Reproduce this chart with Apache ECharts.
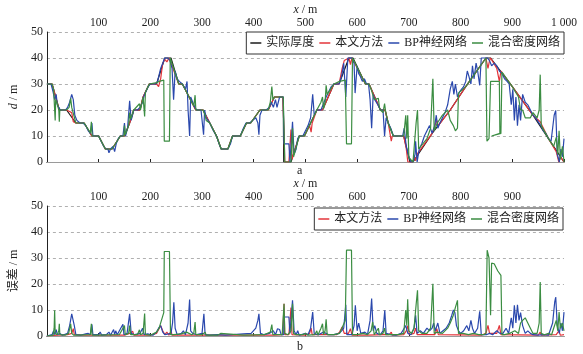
<!DOCTYPE html>
<html><head><meta charset="utf-8">
<script src="https://cdn.jsdelivr.net/npm/echarts@6/dist/echarts.min.js"></script>
<style>html,body{margin:0;padding:0;background:#fff}#c{width:583px;height:354px}</style>
</head><body><div id="c"></div>
<script>
// ---- data (x in m, value in m) ----
const legendTop = ['实际厚度', '本文方法', 'BP神经网络', '混合密度网络'];
const legendBottom = ['本文方法', 'BP神经网络', '混合密度网络'];
const yTicks = [0, 10, 20, 30, 40, 50];

const actualTop = [[0,30],[10,30],[24,20],[38,20],[56,15],[72,15],[87,10],[100,10],[113,5],[126,5],[142,10],[150,10],[160,15],[168,20],[180,20],[186,25],[198,30],[212,30],[228,40],[240,40],[255,30],[262,30],[288,20],[302,20],[315,15],[328,10],[337,5],[350,5],[359,10],[374,10],[386,15],[394,15],[412,20],[428,20],[440,25],[457,25],[458,0],[472,0],[488,10],[498,10],[522,20],[533,20],[544,25],[555,30],[565,30],[584,40],[592,40],[616,30],[623,30],[645,20],[654,20],[660,15],[670,10],[690,10],[702,0],[708,0],[745,11],[780,20],[810,29],[849,40],[858,40],[900,29],[940,18],[970,9],[1000,0]];

const oursTop = [[0,30],[10,30],[24,20],[38,20],[48,19],[51,15.5],[56,15],[72,15],[87,10],[100,10],[113,5],[126,5],[142,10],[150,10],[160,15],[166,18.5],[168,20],[180,20],[186,25],[198,30],[212,30],[216,29],[220,32],[224,38],[228,39.5],[232,38.5],[236,40],[240,38],[242,38.5],[255,30],[262,30],[288,20],[302,20],[315,15],[328,10],[337,5],[350,5],[359,10],[374,10],[386,15],[394,15],[412,20],[428,20],[440,25],[456,25],[458.6,12.4],[460,0],[468,0],[472,12.5],[474,1],[488,10],[498,10],[508,14],[511,11.5],[513,15],[522,20],[533,20],[544,25],[555,30],[565,30],[571,36],[575,39],[584,40],[587,37.5],[590,40],[592,40],[616,30],[623,30],[645,20],[654,20],[660,15],[666,8],[668,10],[690,10],[695,5],[698,0],[708,0],[710,2],[713,0.5],[716,3],[745,11],[754,16],[757,14],[780,20],[810,29],[849,40],[853,36],[856,39],[858,40],[870,36],[875,31],[878,35],[900,29],[940,18],[954,15.5],[970,9],[985,4],[990,0],[993,2],[1000,0]];

const bpTop = [[0,30],[8,30],[12,27],[15,24],[18,26],[20,22],[23,21],[26,20],[30,20],[36,20],[40,21],[44,23],[48,26],[51,24],[54,18],[58,16],[64,15],[70,15],[75,14],[80,12],[84,11],[87,15],[89,10],[95,10],[100,10],[105,8],[110,6],[114,5],[118,5],[120,3.5],[123,5],[128,6],[131,4],[134,7],[138,9],[142,10],[147,10],[150,15],[152,10],[156,13],[160,23.5],[163,16],[168,20],[175,20],[180,21],[185,23],[188,25.5],[191,26],[196,29],[200,30],[210,30],[214,31],[220,36],[224,38],[228,40],[234,40],[238,39],[242,36],[245,24],[248,35],[252,32],[256,31],[262,30],[268,28],[271,31],[273,20],[276,10],[278,25],[282,23],[286,21],[290,20],[298,20],[303,10.5],[305,20],[308,17],[315,15],[322,12],[328,10],[333,7],[337,5],[345,5],[350,5],[355,7],[359,10],[368,10],[374,10],[380,13],[385,15],[392,15],[398,16],[404,17],[408,15],[410,10.5],[412,18],[416,20],[424,20],[430,21],[434,23],[438,21],[442,24],[445,21],[450,25],[457,25],[458.5,7],[468,7],[470,0],[473,0],[475,15.5],[478,3],[482,5],[485,9],[488,10],[495,10],[500,12],[505,14],[510,17],[514,26],[517,18],[522,20],[530,20],[536,23],[540,25],[545,27],[550,29],[555,30],[565,30],[570,33],[574,38],[578,25],[582,40],[590,40],[594,38],[596,26.5],[600,37],[603,34],[606,33],[610,31],[614,32],[618,30],[622,30],[625,24],[628,13],[631,26],[634,24],[640,22],[645,20],[650,20],[653,10],[656,17],[660,15],[665,13],[670,10],[680,10],[688,10],[691,13],[695,6],[700,2],[704,0],[708,0],[712,3],[713,8],[716,0],[720,5],[725,7],[730,10],[735,12],[740,14],[745,11],[750,14],[753,18],[756,13],[760,15],[765,17],[770,19],[775,22],[780,28],[784,31],[787,26],[790,30],[794,25],[798,27],[802,28],[806,29],[810,31],[813,35],[816,33],[820,30],[823,37],[826,32],[830,38],[833,35],[837,29.5],[840,40],[848,40],[852,40],[856,39],[860,37],[865,38],[870,37],[875,35],[880,34],[885,32],[890,31],[894,30],[898,22],[901,28],[904,16],[907,25],[910,14],[913,22],[916,16],[920,26],[925,23],[930,22],[935,20],[940,18],[945,17],[950,15.5],[955,14],[960,12],[965,11],[970,9],[975,8],[978,13],[981,18],[984,19.8],[987,3],[991,0],[994,5],[997,2],[1000,9]];

const mixTop = [[0,30],[10,30],[13,28],[15,20],[16,16],[17,24],[20,22.5],[23,20],[24,15.5],[25,20],[38,20],[43,21],[46,24.5],[48,21],[56,15],[72,15],[84,11.2],[86,15.5],[87.5,10],[100,10],[113,5],[126,5],[142,10],[149,10],[150,14],[151.5,10.5],[158,14],[160,19],[162,16.5],[168,20],[179,22.4],[181,20],[186,25],[189,17.5],[190.5,26.8],[198,30],[212,30.5],[217,31],[226,31.5],[227,8],[237,8],[238.5,40],[240,40],[255,30],[262,30],[284,21.5],[286.6,25.7],[288,20],[302,20],[306,18],[308,16],[315,15],[328,10],[337,5],[350,5],[359,10],[374,10],[386,15],[394,15],[412,20],[428,20],[432,23],[435,29],[437,24],[440,25],[457,25],[458.6,12.4],[460,0],[472,0],[475,13],[477,2],[488,10],[498,10],[522,20],[530,23],[533,25],[535,20.5],[538,23],[540,29.5],[542,26],[555,30],[566,31],[577,31.5],[579.4,7],[589,7],[591,40],[592,40],[616,30],[623,30],[627,28],[630,28],[633,24],[641,24.5],[643,21],[645,20],[650,19],[653,22.5],[655,19.5],[660,15],[670,10],[690,10],[694,18],[696,9],[697.7,18],[700,1.7],[708,0],[710,5],[714,15],[716.7,20],[719,5],[735,9],[742,13],[746.4,32],[749,12],[755,15],[765,18],[775,20],[780,16],[786,14],[790,12],[794,13],[796,26.5],[810,29],[849,40],[851,8],[855,9],[858,31],[875,31],[876,11],[860,10],[878,11],[880,34.6],[900,29],[912,25],[916,20],[920,20],[925,17],[935,17],[940,19],[948,17],[952,20],[954,33.6],[956,14],[970,9],[980,6],[985,9.5],[988,3],[990.5,12],[993,1],[997,6],[1000,0]];

const oursErr = [[0,0],[20,0.3],[40,0.5],[48,1],[51,2.8],[53,0.5],[70,0.3],[90,0.3],[150,0.3],[160,1],[166,1.8],[168,0.3],[200,0.3],[212,1],[216,2.5],[220,4],[224,2],[228,0.5],[232,1.5],[236,0.3],[240,2],[242,0.3],[300,0.3],[440,0.3],[456,0.5],[458.6,12.4],[460,0.5],[468,0.5],[472,10.9],[474,0.5],[500,0.3],[508,1],[511,3],[513,0.5],[560,0.5],[566,1.5],[571,3.5],[575,1],[583,1],[587,2.8],[590,0.3],[620,0.3],[650,0.5],[662,0.5],[666,1.5],[668,0.3],[690,0.5],[695,2],[698,4],[701,0.5],[710,1],[713,3],[716,0.5],[750,0.5],[754,2.8],[757,0.5],[840,0.3],[849,1],[853,4.1],[856,1],[870,1],[875,4.1],[878,0.5],[950,0.3],[954,1.5],[956,0.3],[985,0.5],[990,2],[993,0.3],[1000,0.5]];

const bpErr = [[0,0],[10,0.5],[13,2],[15,0.5],[18,2.5],[20,0.5],[25,1],[30,0.3],[40,1],[44,4],[48,8.5],[50,9],[53,4],[56,0.5],[65,0.3],[75,0.8],[80,1],[84,0.5],[87,4.5],[89,0.5],[100,0.5],[103,1.5],[106,0.3],[115,0.5],[120,1.5],[123,0.3],[129,2.5],[131,0.5],[133,2],[136,0.5],[147,4.5],[149,0.5],[155,1],[160,8.5],[163,1],[170,0.5],[180,1],[185,3],[188,0.5],[195,0.8],[205,0.3],[212,1.5],[216,3],[220,4],[224,1.5],[228,0.5],[235,0.8],[240,1],[243,5],[245.5,13],[248,3],[252,0.5],[260,1],[264,2],[268,0.5],[273,5],[276,14],[278,2],[282,1],[290,0.5],[300,1],[303.6,8.5],[306,0.5],[315,0.3],[330,0.5],[345,0.3],[360,0.5],[380,0.8],[395,1],[404,3],[408,6],[410,8.5],[413,1],[420,0.5],[430,1],[438,2],[442,0.5],[446,2.8],[450,2.5],[453,0.5],[458,0.5],[459,7.3],[468,7.3],[470,1],[475,13.7],[478,2],[482,0.5],[485,2],[488,0.3],[500,1],[505,0.5],[510,3],[514,9.2],[517,0.8],[525,0.5],[535,1.5],[545,0.5],[555,0.5],[565,1],[570,2],[574,3],[578,12],[580,0.5],[590,0.5],[594,4],[596.5,11.8],[600,2],[603,5],[607,1],[615,1.5],[620,0.5],[625,6],[628,14.4],[631,2],[634,4],[638,1],[645,0.5],[650,2],[653.4,9.9],[656,1],[665,0.5],[675,0.3],[685,1],[691,3],[694,4],[698,1],[704,0.5],[710,3],[713,8],[716,1],[722,2],[728,1],[735,3],[740,2],[745,3],[748,5],[751,2],[756,5],[760,1],[766,2],[772,3],[778,5],[783,8],[786,10],[789,9],[792,4],[796,2],[800,1],[806,2],[812,4],[816,2],[820,6],[823,3],[827,1],[833,3],[837,9.5],[840,0.5],[850,0.5],[856,1],[862,0.5],[870,2],[876,1],[882,1],[888,3],[893,1],[898,7],[901,3],[904,11.8],[907,5],[910,12],[913,6],[916,9],[920,4],[925,1],[930,2],[935,1],[940,0.5],[950,0.3],[960,0.5],[970,0.3],[978,5],[982,13],[984,15],[987,4],[991,1],[994,5],[997,2],[1000,9.2]];

const mixErr = [[0,0],[12,0.3],[14,3],[15,9.9],[16,1],[20,0.5],[23,2],[24,4.7],[25,0.5],[35,0.3],[42,1],[46,4.7],[48,1],[52,0.3],[60,0.3],[84,0.5],[86,4.7],[87.5,0.3],[100,0.3],[140,0.5],[150,4],[151.5,0.5],[158,1],[160,4],[162,0.5],[175,0.5],[179,2.4],[181,0.5],[186,1],[189,8.6],[190.5,0.5],[200,0.3],[212,1.5],[217,3],[226,9],[227,32.5],[237,32.5],[239,0.5],[245,0.5],[260,0.8],[270,1.5],[280,0.5],[284,1],[286.6,5.4],[288,0.5],[300,0.5],[306,1.5],[308,0.3],[330,0.3],[336,1],[338,0.3],[380,0.3],[383,1],[385,0.3],[420,0.5],[432,1.5],[435,4.4],[437,0.5],[450,0.5],[455,0.5],[458.6,12.4],[460,1],[466,0.5],[472,2],[475,12.4],[477,1],[482,0.5],[495,0.5],[500,1],[505,0.3],[518,0.5],[522,2],[524,0.3],[530,3],[533,4.7],[535,0.5],[538,2],[540,6.4],[542,0.5],[555,0.5],[566,1],[577,6],[579.4,33],[589,33],[591,0.5],[600,0.5],[612,1],[620,0.5],[627,2],[630,5.4],[633,0.5],[641,3],[643,0.5],[650,1],[653,3],[655,0.5],[665,0.5],[680,0.5],[690,1],[694,10],[696,4],[697.7,14.1],[700,2],[705,1],[710,3],[714,12],[716.7,17.6],[719,2],[725,1],[735,1],[742,3],[746.4,20.1],[749,1],[755,1.5],[765,1],[775,3],[780,5],[786,8],[790,11],[794,13.7],[796,1],[805,1],[815,0.5],[825,1],[835,0.5],[845,0.5],[849,1],[851.4,33],[855,30],[858,8],[860,28],[865,27.8],[872,25],[878,23.3],[880,0.5],[885,0.5],[895,1],[905,2],[912,1],[916,5],[920,6],[925,7],[930,5],[935,3],[940,1],[948,1],[952,5],[954,20.8],[956,1],[962,0.5],[970,1],[976,0.5],[980,3],[985,6],[988,2],[990.5,9.2],[993,3],[997,5],[1000,2]];

// ---- styles ----
const serif = '"Liberation Serif","DejaVu Serif",serif';
const mixFont = '"Liberation Serif","Noto Sans CJK SC",sans-serif';
const C = {black:'#1b1b1b', red:'#e3343a', blue:'#2a48ad', green:'#3b8d42'};
const ink = '#222';

function xAxisTop(grid, show1000, gap) {
  return {
    gridIndex: grid, type: 'value', position: 'top', min: 0, max: 1000, interval: 100,
    name: '{i|x} / m', nameLocation: 'middle', nameGap: gap,
    nameTextStyle: {fontFamily: serif, fontSize: 12, color: ink,
      rich: {i: {fontFamily: serif, fontSize: 12, fontStyle: 'italic', color: ink}}},
    axisLine: {show: true, lineStyle: {color: ink, width: 1}},
    axisTick: {show: true, length: 3, lineStyle: {color: ink}},
    axisLabel: {fontFamily: serif, fontSize: 11.5, color: ink, margin: 3,
      showMinLabel: false, showMaxLabel: show1000,
      formatter: v => v === 1000 ? '1 000' : String(v)},
    splitLine: {show: false}
  };
}
function xAxisBottom(grid) {
  return {gridIndex: grid, type: 'value', position: 'bottom', min: 0, max: 1000,
    axisLine: {show: true, lineStyle: {color: '#9a9a9a', width: 1}},
    axisTick: {show: false}, axisLabel: {show: false}, splitLine: {show: false}};
}
function yAxis(grid, nameRich, gap) {
  return {
    gridIndex: grid, type: 'value', min: yTicks[0], max: yTicks[yTicks.length-1], interval: 10,
    name: nameRich, nameLocation: 'middle', nameGap: gap, nameRotate: 90,
    nameTextStyle: {fontFamily: mixFont, fontSize: 12, color: ink,
      rich: {i: {fontFamily: serif, fontSize: 12, fontStyle: 'italic', color: ink}}},
    axisLine: {show: true, lineStyle: {color: ink, width: 1}},
    axisTick: {show: false},
    axisLabel: {fontFamily: serif, fontSize: 12, color: ink, margin: 4},
    splitLine: {show: true, lineStyle: {color: '#b0b0b0', type: [3, 3], width: 1}}
  };
}
function line(name, data, color, xi, yi) {
  return {name, type: 'line', data, xAxisIndex: xi, yAxisIndex: yi,
    symbol: 'none', showSymbol: false, animation: false,
    lineStyle: {color, width: 1.2}, itemStyle: {color}};
}
function legend(data, right, top) {
  return {data, right, top, orient: 'horizontal', icon: 'rect',
    itemWidth: 11, itemHeight: 1.5, itemGap: 5, padding: [5, 4],
    borderColor: '#333', borderWidth: 1, backgroundColor: '#fff', borderRadius: 0,
    selectedMode: false,
    textStyle: {fontFamily: mixFont, fontSize: 12, color: ink}};
}

const chart = echarts.init(document.getElementById('c'), null, {renderer: 'canvas'});
chart.setOption({
  backgroundColor: '#fff',
  animation: false,
  grid: [
    {left: 37, top: 32, width: 527, height: 130},
    {left: 37, top: 206, width: 527, height: 130}
  ],
  xAxis: [xAxisTop(0, true, 16), xAxisTop(1, false, 12), xAxisBottom(0), xAxisBottom(1)],
  yAxis: [yAxis(0, '{i|d} / m', 18), yAxis(1, '误差 / m', 17)],
  legend: [legend(legendTop, 19, 32), legend(legendBottom, 20, 208)],
  series: [
    line(legendTop[0], actualTop, C.black, 0, 0),
    line(legendTop[1], oursTop, C.red, 0, 0),
    line(legendTop[2], bpTop, C.blue, 0, 0),
    line(legendTop[3], mixTop, C.green, 0, 0),
    line(legendBottom[0], oursErr, C.red, 1, 1),
    line(legendBottom[1], bpErr, C.blue, 1, 1),
    line(legendBottom[2], mixErr, C.green, 1, 1)
  ],
  graphic: [
    {type: 'text', left: 297, top: 165, style: {text: 'a', font: '12px ' + serif, fill: ink}},
    {type: 'text', left: 297, top: 341, style: {text: 'b', font: '12px ' + serif, fill: ink}}
  ]
});
</script></body></html>
